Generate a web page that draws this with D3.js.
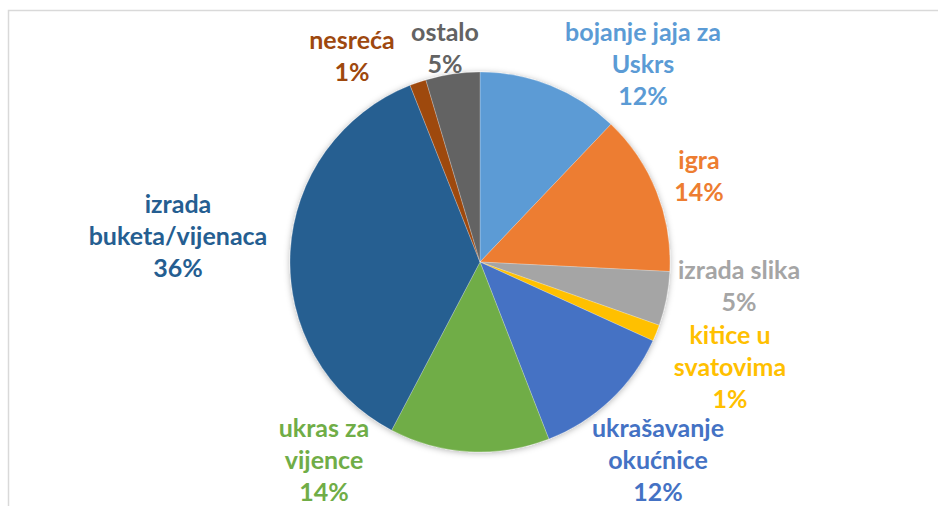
<!DOCTYPE html>
<html>
<head>
<meta charset="utf-8">
<script src="https://cdn.jsdelivr.net/npm/d3@7"></script>
<style>
  body { margin: 0; background: #fff; }
  svg { display: block; }
</style>
</head>
<body>
<svg id="chart" width="938" height="506"></svg>
<script>
// categories, in drawing order (clockwise from 12 o'clock)
var categories = [
  "bojanje jaja za Uskrs",
  "igra",
  "izrada slika",
  "kitice u svatovima",
  "ukrašavanje okućnice",
  "ukras za vijence",
  "izrada buketa/vijenaca",
  "nesreća",
  "ostalo",
];
// share in percent
var values = [12.1, 13.7, 4.6, 1.4, 12.3, 13.6, 36.3, 1.4, 4.6];
var colors = [
  "#5B9BD5", "#ED7D31", "#A5A5A5", "#FFC000", "#4472C4",
  "#70AD47", "#255E91", "#9E480E", "#636363",
];
// how each label breaks into lines
var labelLines = [
  ["bojanje jaja za", "Uskrs"],
  ["igra"],
  ["izrada slika"],
  ["kitice u", "svatovima"],
  ["ukrašavanje", "okućnice"],
  ["ukras za", "vijence"],
  ["izrada", "buketa/vijenaca"],
  ["nesreća"],
  ["ostalo"],
];

var width = 938;
var height = 506;
var cx = 480, cy = 262, radius = 190;

var svg = d3.select("#chart");

// chart area border
svg.append("rect")
  .attr("x", 8.5)
  .attr("y", 10.5)
  .attr("width", width)
  .attr("height", height)
  .style("fill", "none")
  .style("stroke", "#d9d9d9")
  .style("stroke-width", 1.5);

var defs = svg.append("defs");
var shadow = defs.append("filter").attr("id", "shadow")
  .attr("x", "-20%").attr("y", "-20%").attr("width", "140%").attr("height", "140%");
shadow.append("feDropShadow")
  .attr("dx", 0).attr("dy", 1)
  .attr("stdDeviation", 3)
  .attr("flood-color", "#000")
  .attr("flood-opacity", 0.3);

var data = categories.map((c, i) => ({ name: c, value: values[i], color: colors[i], lines: labelLines[i] }));
var total = d3.sum(values);

var pie = d3.pie().sort(null).value((d) => d.value);
var arc = d3.arc().innerRadius(0).outerRadius(radius);
var arcs = pie(data);

var g = svg.append("g").attr("transform", `translate(${cx},${cy})`);

g.append("g")
  .attr("filter", "url(#shadow)")
  .selectAll("path")
  .data(arcs)
  .enter()
  .append("path")
  .attr("d", arc)
  .style("fill", (d) => d.data.color)
  .style("stroke", "#fff")
  .style("stroke-opacity", 0.4)
  .style("stroke-width", 0.6);

// label centres (x, y of the first line), placed by hand like the original
var labelPos = [
  [643, 32], [699, 160], [739, 270], [730, 335], [658, 428],
  [324, 428], [178, 204], [352, 40], [445, 32],
];
var lineH = 32;

var labels = svg.append("g")
  .style("font-family", "Lato, 'Open Sans', sans-serif")
  .style("font-weight", "bold")
  .style("font-size", "25px");

labels.selectAll("text")
  .data(arcs)
  .enter()
  .append("text")
  .attr("x", (d, i) => labelPos[i][0])
  .attr("y", (d, i) => labelPos[i][1])
  .attr("text-anchor", "middle")
  .style("fill", (d) => d.data.color)
  .each(function (d, i) {
    var t = d3.select(this);
    var lines = d.data.lines.concat([Math.round((d.data.value / total) * 100) + "%"]);
    lines.forEach((ln, k) => {
      t.append("tspan")
        .attr("x", labelPos[i][0])
        .attr("y", labelPos[i][1] + k * lineH)
        .attr("dy", "0.35em")
        .text(ln);
    });
  });
</script>
</body>
</html>
